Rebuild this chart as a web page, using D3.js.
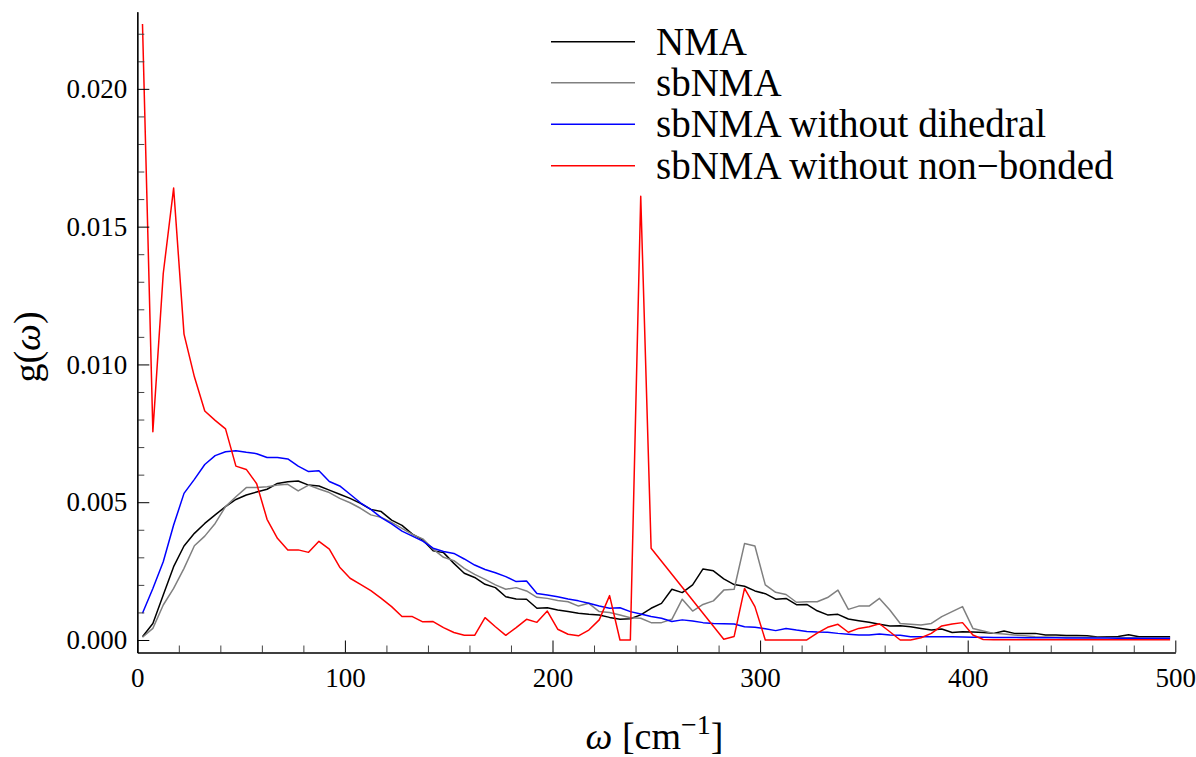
<!DOCTYPE html>
<html>
<head>
<meta charset="utf-8">
<script src="https://cdn.jsdelivr.net/npm/d3@7"></script>
<style>
  html, body { margin: 0; padding: 0; background: #fff; }
  svg { display: block; }
  text { fill: #000; }
</style>
</head>
<body>
<script>
// ---------- DATA ----------
const omega = [
  2.5, 7.5, 12.5, 17.5, 22.5, 27.5, 32.5, 37.5, 42.5, 47.5,
  52.5, 57.5, 62.5, 67.5, 72.5, 77.5, 82.5, 87.5, 92.5, 97.5,
  102.5, 107.5, 112.5, 117.5, 122.5, 127.5, 132.5, 137.5, 142.5, 147.5,
  152.5, 157.5, 162.5, 167.5, 172.5, 177.5, 182.5, 187.5, 192.5, 197.5,
  202.5, 207.5, 212.5, 217.5, 222.5, 227.5, 232.5, 237.5, 242.5, 247.5,
  252.5, 257.5, 262.5, 267.5, 272.5, 277.5, 282.5, 287.5, 292.5, 297.5,
  302.5, 307.5, 312.5, 317.5, 322.5, 327.5, 332.5, 337.5, 342.5, 347.5,
  352.5, 357.5, 362.5, 367.5, 372.5, 377.5, 382.5, 387.5, 392.5, 397.5,
  402.5, 407.5, 412.5, 417.5, 422.5, 427.5, 432.5, 437.5, 442.5, 447.5,
  452.5, 457.5, 462.5, 467.5, 472.5, 477.5, 482.5, 487.5, 492.5, 497.5
];

const gNMA = [
  0.00012,0.00060,0.00163,0.00266,0.00341,0.00387,0.00423,0.00454,0.00484,0.00510,
  0.00526,0.00537,0.00547,0.00568,0.00574,0.00577,0.00562,0.00559,0.00544,0.00529,
  0.00514,0.00496,0.00474,0.00466,0.00435,0.00416,0.00384,0.00363,0.00324,0.00317,
  0.00278,0.00242,0.00227,0.00202,0.00190,0.00157,0.00149,0.00148,0.00115,0.00117,
  0.00109,0.00103,0.00097,0.00093,0.00091,0.00082,0.00075,0.00077,0.00091,0.00115,
  0.00133,0.00184,0.00172,0.00200,0.00258,0.00251,0.00222,0.00201,0.00195,0.00178,
  0.00168,0.00148,0.00151,0.00128,0.00129,0.00106,0.00091,0.00093,0.00076,0.00070,
  0.00064,0.00057,0.00051,0.00052,0.00048,0.00042,0.00036,0.00040,0.00027,0.00030,
  0.00029,0.00027,0.00024,0.00033,0.00024,0.00024,0.00024,0.00018,0.00018,0.00016,
  0.00016,0.00015,0.00011,0.00012,0.00013,0.00019,0.00012,0.00012,0.00012,0.00012
];

const gSbNMA = [
  0.00010,0.00042,0.00127,0.00187,0.00260,0.00342,0.00377,0.00423,0.00484,0.00520,
  0.00553,0.00553,0.00556,0.00562,0.00565,0.00541,0.00562,0.00548,0.00535,0.00514,
  0.00498,0.00478,0.00454,0.00445,0.00427,0.00405,0.00383,0.00367,0.00330,0.00300,
  0.00288,0.00260,0.00238,0.00220,0.00200,0.00184,0.00190,0.00178,0.00155,0.00151,
  0.00143,0.00139,0.00123,0.00133,0.00103,0.00100,0.00091,0.00081,0.00079,0.00063,
  0.00063,0.00075,0.00148,0.00105,0.00129,0.00142,0.00181,0.00184,0.00350,0.00341,
  0.00200,0.00173,0.00165,0.00137,0.00139,0.00139,0.00154,0.00181,0.00111,0.00123,
  0.00123,0.00151,0.00109,0.00060,0.00057,0.00054,0.00060,0.00085,0.00103,0.00121,
  0.00042,0.00033,0.00024,0.00022,0.00018,0.00015,0.00012,0.00011,0.00010,0.00010,
  0.00010,0.00009,0.00009,0.00009,0.00008,0.00008,0.00008,0.00008,0.00008,0.00008
];

const gNoDihedral = [
  0.00097,0.00187,0.00284,0.00417,0.00532,0.00583,0.00637,0.00669,0.00683,0.00687,
  0.00681,0.00676,0.00662,0.00662,0.00657,0.00631,0.00611,0.00614,0.00575,0.00559,
  0.00529,0.00498,0.00474,0.00444,0.00421,0.00395,0.00377,0.00359,0.00333,0.00321,
  0.00314,0.00294,0.00272,0.00256,0.00244,0.00230,0.00212,0.00214,0.00169,0.00163,
  0.00157,0.00149,0.00142,0.00133,0.00123,0.00115,0.00117,0.00103,0.00094,0.00085,
  0.00079,0.00067,0.00073,0.00069,0.00063,0.00060,0.00059,0.00058,0.00048,0.00046,
  0.00041,0.00034,0.00042,0.00036,0.00031,0.00029,0.00028,0.00024,0.00021,0.00018,
  0.00018,0.00022,0.00018,0.00017,0.00012,0.00012,0.00012,0.00012,0.00012,0.00011,
  0.00010,0.00010,0.00009,0.00009,0.00009,0.00008,0.00008,0.00008,0.00008,0.00007,
  0.00007,0.00007,0.00007,0.00007,0.00006,0.00006,0.00006,0.00006,0.00006,0.00006
];

// the red curve has no points between 247.5 and 282.5 (straight segment)
const omegaNoNonbonded = [
  2.5, 7.5, 12.5, 17.5, 22.5, 27.5, 32.5, 37.5, 42.5, 47.5,
  52.5, 57.5, 62.5, 67.5, 72.5, 77.5, 82.5, 87.5, 92.5, 97.5,
  102.5, 107.5, 112.5, 117.5, 122.5, 127.5, 132.5, 137.5, 142.5, 147.5,
  152.5, 157.5, 162.5, 167.5, 172.5, 177.5, 182.5, 187.5, 192.5, 197.5,
  202.5, 207.5, 212.5, 217.5, 222.5, 227.5, 232.5, 237.5, 242.5, 247.5,
  282.5, 287.5, 292.5, 297.5, 302.5, 307.5, 312.5, 317.5, 322.5, 327.5,
  332.5, 337.5, 342.5, 347.5, 352.5, 357.5, 362.5, 367.5, 372.5, 377.5,
  382.5, 387.5, 392.5, 397.5, 402.5, 407.5, 412.5, 417.5, 422.5, 427.5,
  432.5, 437.5, 442.5, 447.5, 452.5, 457.5, 462.5, 467.5, 472.5, 477.5,
  482.5, 487.5, 492.5, 497.5
];
const gNoNonbonded = [
  0.02235,0.00756,0.01330,0.01640,0.01110,0.00955,0.00831,0.00797,0.00766,0.00631,
  0.00619,0.00567,0.00438,0.00369,0.00327,0.00327,0.00318,0.00358,0.00330,0.00264,
  0.00224,0.00202,0.00179,0.00151,0.00121,0.00085,0.00085,0.00066,0.00067,0.00045,
  0.00027,0.00017,0.00017,0.00081,0.00048,0.00017,0.00045,0.00075,0.00064,0.00105,
  0.00039,0.00021,0.00015,0.00036,0.00073,0.00161,0.00000,0.00000,0.01610,0.00333,
  0.00003,0.00013,0.00187,0.00121,0.00000,0.00000,0.00000,0.00000,0.00000,0.00025,
  0.00046,0.00057,0.00028,0.00042,0.00048,0.00059,0.00030,0.00000,0.00000,0.00008,
  0.00024,0.00051,0.00058,0.00063,0.00018,0.00002,0.00001,0.00001,0.00001,0.00001,
  0.00001,0.00001,0.00001,0.00001,0.00001,0.00001,0.00001,0.00001,0.00001,0.00001,
  0.00001,0.00001,0.00001,0.00001
];

const seriesNames = ["NMA", "sbNMA", "sbNMA without dihedral", "sbNMA without non\u2212bonded"];
const seriesColors = ["#000000", "#808080", "#0000ff", "#ff0000"];

const xMajorTicks = [0, 100, 200, 300, 400, 500];
const xMinorTicks = [20, 40, 60, 80, 120, 140, 160, 180, 220, 240, 260, 280, 320, 340, 360, 380, 420, 440, 460, 480];
const yMajorTicks = [0.000, 0.005, 0.010, 0.015, 0.020];
const yMinorTicks = [0.001, 0.002, 0.003, 0.004, 0.006, 0.007, 0.008, 0.009, 0.011, 0.012, 0.013, 0.014, 0.016, 0.017, 0.018, 0.019, 0.021, 0.022];

// ---------- DRAWING ----------
const FONT = "Liberation Serif";
const W = 1196, H = 757;
const svg = d3.select("body").append("svg").attr("width", W).attr("height", H)
  .attr("font-family", FONT);

const x = d3.scaleLinear().domain([0, 500]).range([137.3, 1175.3]);
const y = d3.scaleLinear().domain([-0.000454, 0.0228]).range([652.5, 11.7]);

svg.append("defs").append("clipPath").attr("id", "plotclip")
  .append("rect").attr("x", x(0)).attr("y", 0)
  .attr("width", x(500) - x(0) + 2).attr("height", y.range()[0]);

const series = [
  { xs: omega, ys: gNMA },
  { xs: omega, ys: gSbNMA },
  { xs: omega, ys: gNoDihedral },
  { xs: omegaNoNonbonded, ys: gNoNonbonded }
];

const line = d3.line().x(d => x(d[0])).y(d => y(d[1]));
const plot = svg.append("g").attr("clip-path", "url(#plotclip)");
series.forEach((s, i) => {
  const pts = s.xs.map((v, k) => [v, s.ys[k]]);
  plot.append("path").datum(pts)
    .attr("d", line)
    .attr("fill", "none")
    .attr("stroke", seriesColors[i])
    .attr("stroke-width", 1.5)
    .attr("stroke-linejoin", "round");
});

// axes
const y0 = y.range()[0];
const x0 = x.range()[0];

const xMinor = svg.append("g").attr("transform", `translate(0,${y0})`)
  .call(d3.axisBottom(x).tickValues(xMinorTicks).tickFormat("").tickSizeInner(-7).tickSizeOuter(0));
const xMajor = svg.append("g").attr("transform", `translate(0,${y0})`)
  .call(d3.axisBottom(x).tickValues(xMajorTicks).tickFormat(d3.format("d")).tickSizeInner(-12).tickSizeOuter(0).tickPadding(15));

const yMinor = svg.append("g").attr("transform", `translate(${x0},0)`)
  .call(d3.axisLeft(y).tickValues(yMinorTicks).tickFormat("").tickSizeInner(-7).tickSizeOuter(0));
const yMajor = svg.append("g").attr("transform", `translate(${x0},0)`)
  .call(d3.axisLeft(y).tickValues(yMajorTicks).tickFormat(d3.format(".3f")).tickSizeInner(-12).tickSizeOuter(0).tickPadding(10));

[xMinor, xMajor, yMinor, yMajor].forEach(g => {
  g.attr("font-family", FONT).attr("font-size", 27);
  g.selectAll("path.domain").attr("stroke", "#000").attr("stroke-width", 1.2);
  g.selectAll(".tick line").attr("stroke", "#000").attr("stroke-width", 1);
  g.selectAll(".tick text").attr("fill", "#000");
});
xMinor.selectAll(".tick line").attr("stroke", "#444");
yMinor.selectAll(".tick line").attr("stroke", "#444");

// axis titles
const xt = svg.append("text").attr("x", 654.5).attr("y", 749)
  .attr("text-anchor", "middle").attr("font-size", 38);
xt.append("tspan").attr("font-style", "italic").text("\u03c9");
xt.append("tspan").text(" [cm");
xt.append("tspan").attr("dy", -15).attr("font-size", 28).text("\u22121");
xt.append("tspan").attr("dy", 15).text("]");

const yt = svg.append("text").attr("transform", "translate(40,347) rotate(-90)")
  .attr("text-anchor", "middle").attr("font-size", 38);
yt.append("tspan").text("g(");
yt.append("tspan").attr("font-style", "italic").text("\u03c9");
yt.append("tspan").text(")");

// legend
const legendY = [41.7, 82.7, 124.3, 165.7];
const lg = svg.append("g");
seriesNames.forEach((name, i) => {
  lg.append("line").attr("x1", 551).attr("x2", 635)
    .attr("y1", legendY[i]).attr("y2", legendY[i])
    .attr("stroke", seriesColors[i]).attr("stroke-width", 1.5);
  lg.append("text").attr("x", 656).attr("y", legendY[i] + 13)
    .attr("font-size", 39).text(name);
});
</script>
</body>
</html>
